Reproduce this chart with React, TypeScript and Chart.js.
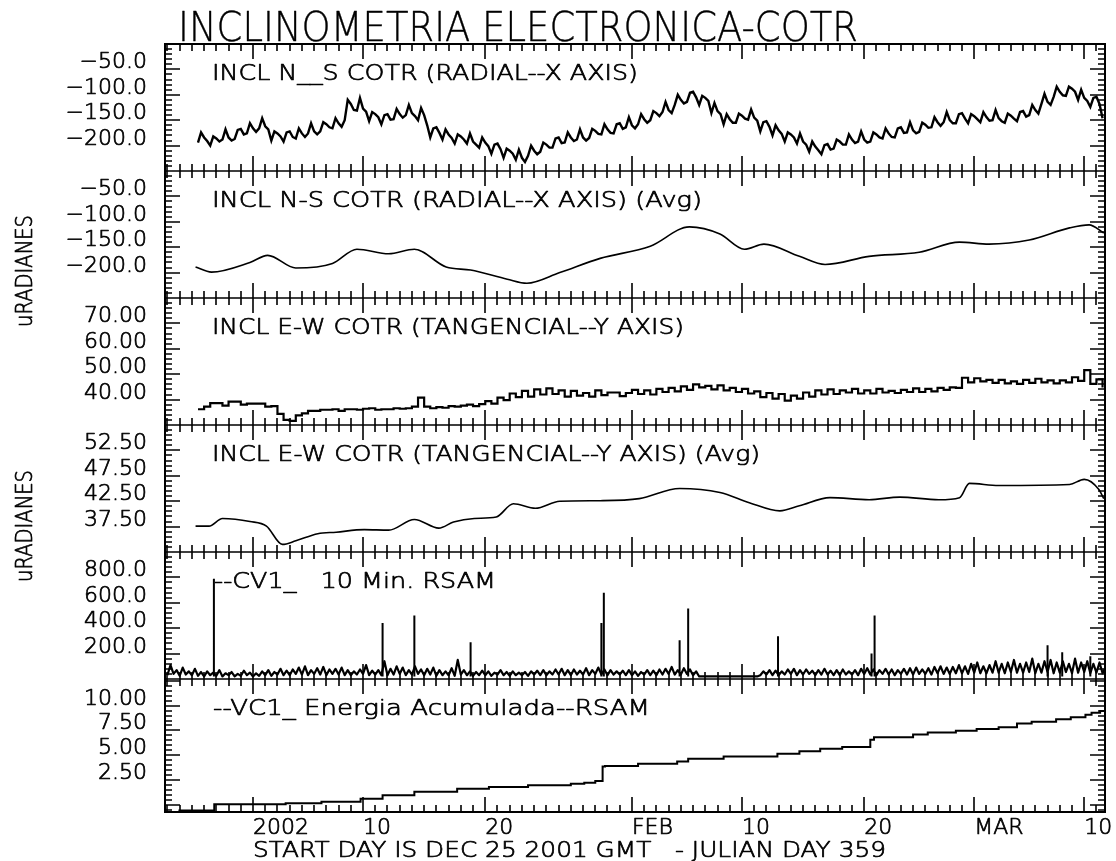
import { useEffect, useRef } from 'react';
import { Chart, registerables } from 'chart.js';

Chart.register(...registerables);

// ---------------- data ----------------
const X_MIN = -0.2;
const X_MAX = 76.7;
const X_TICK_DAYS = [7, 16, 26, 38, 47, 57, 66, 75];
const X_TICK_LABELS = ['2002', '10', '20', 'FEB', '10', '20', 'MAR', '10'];

// N-S raw inclination, every 6 h from day 2.5
const NS_START_DAY = 2.5;
const NS_STEP_DAY = 0.25;
const NS_RAW = [
  -194, -174, -184, -191, -200, -182, -186, -192, -188, -168, -184, -190,
  -187, -169, -167, -178, -176, -156, -166, -173, -166, -146, -162, -168,
  -190, -172, -176, -182, -192, -174, -172, -183, -186, -166, -176, -183,
  -176, -156, -172, -178, -172, -154, -158, -164, -166, -146, -156, -163,
  -150, -110, -118, -130, -131, -106, -127, -133, -152, -134, -138, -144,
  -158, -140, -138, -149, -148, -128, -138, -145, -140, -120, -136, -142,
  -150, -126, -140, -160, -184, -166, -164, -175, -188, -168, -178, -185,
  -196, -178, -182, -188, -196, -176, -192, -198, -204, -184, -194, -201,
  -216, -198, -196, -207, -224, -206, -210, -216, -228, -208, -224, -232,
  -220, -200, -210, -217, -212, -194, -198, -204, -204, -186, -184, -195,
  -194, -174, -184, -191, -188, -168, -184, -190, -185, -167, -171, -177,
  -178, -158, -168, -175, -176, -158, -156, -167, -164, -144, -160, -166,
  -158, -138, -148, -155, -150, -132, -136, -142, -134, -114, -130, -136,
  -120, -100, -110, -117, -114, -96, -94, -105, -120, -102, -106, -112,
  -136, -116, -132, -138, -158, -138, -148, -155, -155, -137, -141, -147,
  -149, -129, -145, -151, -172, -154, -152, -163, -180, -160, -170, -177,
  -192, -174, -178, -184, -196, -176, -192, -198, -212, -192, -202, -209,
  -217, -199, -197, -208, -206, -188, -192, -198, -198, -178, -188, -195,
  -192, -172, -188, -194, -192, -174, -178, -184, -186, -166, -176, -183,
  -184, -166, -164, -175, -174, -154, -170, -176, -173, -155, -159, -165,
  -164, -144, -154, -161, -154, -134, -150, -156, -156, -138, -136, -147,
  -156, -138, -142, -148, -154, -134, -144, -151, -150, -130, -146, -152,
  -155, -137, -141, -147, -152, -134, -132, -143, -140, -120, -130, -137,
  -118, -98, -114, -120, -104, -84, -94, -101, -102, -84, -88, -94,
  -110, -90, -106, -112, -124, -106, -104, -118, -146,
];

const NS_AVG_DAYS = [
  2.3, 3.6, 6.75, 8.2, 10.5, 13.5, 15.5, 18.1, 20.2, 22.8, 24.8, 27.8, 29.4, 32.1, 35.4,
  39.5, 42.7, 45.2, 47.2, 48.8, 51.7, 53.8, 57.4, 61.5, 64.8, 67.2, 70.5, 73.8, 75.4, 76.6,
];
const NS_AVG = [
  -189, -199, -180, -166, -191, -182, -154, -163, -154, -189, -195, -213, -221, -200, -172,
  -148, -110, -124, -154, -144, -168, -184, -168, -160, -140, -144, -136, -112, -106, -122,
];

// E-W raw inclination, every 12 h from day 2.5
const EW_START_DAY = 2.5;
const EW_STEP_DAY = 0.5;
const EW_RAW = [
  36.2, 37.2, 38.6, 38.6, 37.6, 39.2, 39.2, 38.0, 38.4, 38.4,
  38.4, 37.2, 37.4, 34.4, 32.0, 31.6, 33.8, 34.6, 35.6, 35.6,
  36.0, 36.0, 36.2, 35.6, 36.2, 36.2, 36.0, 36.4, 36.6, 36.0,
  36.2, 36.2, 36.6, 36.4, 36.6, 37.2, 40.8, 37.2, 36.6, 37.0,
  36.8, 37.4, 37.2, 37.6, 38.0, 37.4, 38.2, 39.4, 38.4, 40.8,
  39.8, 42.4, 41.0, 43.4, 41.2, 44.0, 42.0, 44.4, 42.2, 43.6,
  41.2, 43.4, 41.6, 42.6, 41.2, 43.6, 41.8, 42.8, 42.8, 41.4,
  42.6, 43.8, 42.2, 43.6, 42.0, 44.2, 43.0, 44.6, 43.2, 45.2,
  43.8, 46.0, 44.8, 45.4, 44.0, 45.6, 43.6, 44.6, 43.0, 44.2,
  42.4, 43.2, 41.0, 42.6, 40.4, 42.2, 39.6, 41.6, 40.4, 42.8,
  41.2, 43.6, 42.0, 44.0, 42.2, 43.6, 42.8, 44.2, 42.4, 43.6,
  42.4, 44.2, 42.8, 43.4, 42.6, 43.8, 43.0, 44.4, 43.0, 44.2,
  43.2, 44.6, 43.8, 44.8, 44.6, 48.6, 46.8, 48.4, 47.2, 47.8,
  46.6, 47.8, 46.4, 47.2, 46.2, 47.8, 46.6, 48.2, 46.8, 47.6,
  46.4, 47.6, 46.8, 48.8, 47.4, 51.6, 46.2, 48.0, 44.8,
];

const EW_AVG_DAYS = [
  2.3, 3.4, 4.5, 6.75, 8.1, 9.4, 10.5, 12.3, 13.8, 16.1, 18.1, 20.2, 22.2, 23.4, 25.1, 26.9,
  28.3, 30.1, 32.1, 35.4, 38.6, 41.9, 45.2, 47.6, 50.1, 51.7, 54.2, 57.4, 59.9, 63.1, 64.8,
  65.6, 68.0, 73.8, 75.0, 76.2, 76.6,
];
const EW_AVG = [
  37.6, 37.6, 39.1, 38.5, 37.6, 34.0, 34.7, 36.1, 36.4, 36.9, 36.8, 38.9, 37.2, 38.4, 39.1, 39.4,
  42.0, 41.1, 42.5, 42.6, 43.0, 45.0, 44.2, 42.2, 40.6, 41.6, 43.2, 42.8, 43.3, 42.8, 43.2,
  46.0, 45.6, 45.8, 46.8, 44.8, 43.0,
];

// RSAM background, every 6 h from day 0
const RSAM_START_DAY = 0;
const RSAM_STEP_DAY = 0.25;
const RSAM = [
  30, 110, 40, 70, 25, 90, 35, 60, 30, 80, 25, 55, 20, 60, 30, 50,
  25, 70, 20, 45, 30, 55, 20, 40, 25, 65, 30, 50, 20, 45, 25, 60,
  30, 70, 25, 55, 35, 80, 30, 65, 30, 75, 40, 90, 35, 100, 30, 70,
  40, 85, 35, 95, 30, 75, 40, 80, 35, 90, 30, 70, 30, 60, 35, 75,
  40, 110, 30, 65, 35, 70, 30, 140, 30, 80, 35, 100, 40, 90, 30, 70,
  35, 100, 40, 75, 30, 80, 35, 90, 25, 70, 30, 60, 30, 85, 25, 150,
  35, 70, 30, 60, 25, 55, 30, 65, 30, 60, 25, 50, 35, 70, 30, 55,
  25, 60, 30, 50, 30, 55, 25, 60, 35, 65, 30, 70, 30, 60, 35, 75,
  35, 80, 30, 70, 30, 75, 35, 65, 35, 85, 30, 70, 40, 90, 35, 75,
  30, 70, 35, 60, 35, 65, 30, 70, 30, 60, 25, 55, 35, 70, 30, 65,
  30, 75, 35, 80, 40, 95, 35, 70, 35, 85, 40, 75, 30, 60, 20, 20,
  20, 20, 20, 20, 20, 20, 20, 20, 20, 20, 20, 20, 20, 20, 20, 20,
  20, 20, 30, 60, 35, 70, 30, 65, 30, 60, 35, 75, 40, 80, 30, 70,
  35, 75, 40, 65, 30, 70, 35, 80, 35, 65, 30, 70, 30, 75, 35, 60,
  35, 70, 30, 80, 40, 85, 35, 75, 30, 70, 40, 80, 35, 75, 30, 70,
  40, 80, 35, 85, 35, 90, 40, 75, 40, 85, 35, 95, 45, 100, 40, 90,
  40, 95, 45, 110, 45, 100, 40, 120, 50, 130, 45, 100, 45, 110, 50, 140,
  50, 120, 45, 130, 55, 150, 50, 120, 50, 130, 55, 160, 45, 120, 50, 140,
  55, 150, 45, 130, 50, 140, 55, 120, 45, 160, 50, 130, 55, 140, 45, 120,
  50, 130, 45, 90,
];
const RSAM_SPIKE_DAYS = [3.8, 17.6, 20.2, 24.8, 35.5, 35.7, 41.9, 42.6, 49.95, 57.6, 57.85, 72.0, 73.2, 75.5];
const RSAM_SPIKES = [790, 440, 500, 290, 440, 680, 305, 555, 336, 200, 500, 265, 210, 180];
const RSAM_FLOOR = 20;

const ENERGY_DAYS = [
  0.9, 3.83, 9.67, 12.6, 15.8, 17.6, 20.2, 23.7, 26.3, 29.5, 33.0, 34.1, 35.0, 35.6, 35.8,
  38.5, 41.7, 42.6, 45.5, 49.9, 51.7, 53.4, 55.2, 57.5, 57.8, 61.0, 62.2, 64.5, 66.2, 68.0,
  69.5, 70.7, 72.7, 73.9, 75.1, 75.6, 76.3, 76.7,
];
const ENERGY = [
  -0.6, 0.04, 0.14, 0.29, 0.58, 0.94, 1.3, 1.59, 1.78, 1.96, 2.1, 2.21, 2.39, 3.84, 3.91,
  4.13, 4.35, 4.64, 4.86, 5.14, 5.4, 5.65, 5.83, 6.56, 6.81, 7.1, 7.28, 7.46, 7.64, 7.83,
  8.19, 8.37, 8.62, 8.84, 9.09, 9.28, 9.46, 9.46,
];

const PANEL_IDS = ['y1', 'y2', 'y3', 'y4', 'y5', 'y6'];
const PANEL_MIN = [-250, -250, 30, 32.5, 0, -0.75];
const PANEL_MAX = [0, 0, 80, 57.5, 1000, 12.7];
const PANEL_TICKS = [
  [-200, -150, -100, -50],
  [-200, -150, -100, -50],
  [40, 50, 60, 70],
  [37.5, 42.5, 47.5, 52.5],
  [200, 400, 600, 800],
  [2.5, 5, 7.5, 10],
];
const PANEL_MAJOR_STEP = [50, 50, 10, 5, 200, 2.5];
const PANEL_DECIMALS = [1, 1, 2, 2, 1, 2];
const PANEL_LABELS = [
  'INCL N__S COTR (RADIAL--X AXIS)',
  'INCL N-S COTR (RADIAL--X AXIS) (Avg)',
  'INCL E-W COTR (TANGENCIAL--Y AXIS)',
  'INCL E-W COTR (TANGENCIAL--Y AXIS) (Avg)',
  '--CV1_   10 Min. RSAM',
  '--VC1_ Energia Acumulada--RSAM',
];
const TITLE = 'INCLINOMETRIA ELECTRONICA-COTR';
const Y_TITLE = 'uRADIANES';
const CAPTION = 'START DAY IS DEC 25 2001 GMT   - JULIAN DAY 359';

// ---------------- layout / style ----------------
const W = 1116;
const H = 861;
const AREA = { left: 165, right: 1105, top: 44, bottom: 812 };
const PANEL_HEIGHTS = [127, 127, 127, 127, 127, 133];
const FONT = '"DejaVu Sans", "Liberation Sans", sans-serif';
const LABEL_POS = [
  { x: 212, w: 426 },
  { x: 212, w: 490 },
  { x: 212, w: 472 },
  { x: 212, w: 548 },
  { x: 214, w: 282 },
  { x: 213, w: 437 },
];

function fmt(v: number, d: number) {
  const s = Math.abs(v).toFixed(d);
  return v < 0 ? '\u2212' + s : s;
}

type TextOpts = { size: number; align?: CanvasTextAlign; width?: number; weight?: number | string; stroke?: number };

function drawText(ctx: CanvasRenderingContext2D, text: string, x: number, y: number, o: TextOpts) {
  ctx.save();
  ctx.font = `${o.weight ?? 200} ${o.size}px ${FONT}`;
  ctx.textBaseline = 'alphabetic';
  ctx.textAlign = 'left';
  const natural = ctx.measureText(text).width;
  const sx = o.width ? o.width / natural : 1;
  const w = natural * sx;
  let left = x;
  if (o.align === 'right') left = x - w;
  else if (o.align === 'center') left = x - w / 2;
  ctx.translate(left, y);
  ctx.scale(sx, 1);
  ctx.fillStyle = '#000';
  ctx.strokeStyle = '#000';
  const sw = o.stroke ?? 0.7;
  ctx.lineWidth = sw;
  ctx.lineJoin = 'round';
  ctx.fillText(text, 0, 0);
  if (sw > 0) ctx.strokeText(text, 0, 0);
  ctx.restore();
}

const framePlugin = {
  id: 'frameTicks',
  afterDraw(chart: any) {
    const { ctx, chartArea: a, scales } = chart;
    const xs = scales.x;
    const ps = PANEL_IDS.map((id) => scales[id]);
    ctx.save();
    ctx.strokeStyle = '#000';
    ctx.lineWidth = 2;
    ctx.strokeRect(a.left, a.top, a.right - a.left, a.bottom - a.top);

    const bounds = [a.top, ...ps.slice(1).map((s: any) => s.top), a.bottom];
    ctx.lineWidth = 1.6;
    ctx.beginPath();
    bounds.forEach((y: number, bi: number) => {
      if (bi > 0 && bi < bounds.length - 1) {
        ctx.moveTo(a.left, y);
        ctx.lineTo(a.right, y);
      }
      for (let d = Math.ceil(X_MIN); d <= X_MAX; d++) {
        const px = Math.round(xs.getPixelForValue(d));
        const len = X_TICK_DAYS.includes(d) ? 15 : 7;
        const up = bi > 0 ? len : 0;
        const down = bi < bounds.length - 1 ? len : 0;
        ctx.moveTo(px, y - up);
        ctx.lineTo(px, y + down);
      }
    });
    PANEL_IDS.forEach((_, i) => {
      const s = ps[i];
      const major = PANEL_MAJOR_STEP[i];
      const minor = major / 5;
      const anchor = PANEL_TICKS[i][0];
      const kStart = Math.ceil((PANEL_MIN[i] - anchor) / minor - 1e-9);
      const kEnd = Math.floor((PANEL_MAX[i] - anchor) / minor + 1e-9);
      for (let k = kStart; k <= kEnd; k++) {
        const v = anchor + k * minor;
        const py = Math.round(s.getPixelForValue(v));
        if (py <= s.top + 1 || py >= s.bottom - 1) continue;
        const len = ((k % 5) + 5) % 5 === 0 ? 15 : 7;
        ctx.moveTo(a.left, py);
        ctx.lineTo(a.left + len, py);
        ctx.moveTo(a.right, py);
        ctx.lineTo(a.right - len, py);
      }
    });
    ctx.stroke();

    // axis tick labels, placed through the scales
    PANEL_IDS.forEach((_, i) => {
      PANEL_TICKS[i].forEach((v) => {
        const py = ps[i].getPixelForValue(v);
        drawText(ctx, fmt(v, PANEL_DECIMALS[i]), a.left - 18, py - 1, { size: 22, align: 'right' });
      });
    });
    X_TICK_DAYS.forEach((d, i) => {
      drawText(ctx, X_TICK_LABELS[i], xs.getPixelForValue(d), a.bottom + 22, { size: 22 });
    });

    // other texts
    drawText(ctx, TITLE, 178, 41, { size: 41, width: 680, stroke: 0.4 });
    PANEL_LABELS.forEach((t, i) => {
      drawText(ctx, t, LABEL_POS[i].x, ps[i].top + 36, { size: 22, width: LABEL_POS[i].w });
    });
    [327, 582].forEach((yb) => {
      ctx.save();
      ctx.translate(32, yb);
      ctx.rotate(-Math.PI / 2);
      drawText(ctx, Y_TITLE, 0, 0, { size: 23, width: 112 });
      ctx.restore();
    });
    drawText(ctx, CAPTION, 253, 857, { size: 22, width: 633 });
    ctx.restore();
  },
};

const seq = (start: number, step: number, vals: number[]) => vals.map((v, i) => ({ x: start + i * step, y: v }));
const pairs = (xs: number[], ys: number[]) => xs.map((x, i) => ({ x, y: ys[i] }));

export default function App() {
  const ref = useRef<HTMLCanvasElement>(null);
  useEffect(() => {
    const scales: any = {
      x: {
        type: 'linear',
        position: 'bottom',
        min: X_MIN,
        max: X_MAX,
        grid: { display: false, drawTicks: false },
        border: { display: false },
        ticks: { display: false },
        afterBuildTicks: (s: any) => {
          s.ticks = X_TICK_DAYS.map((v) => ({ value: v }));
        },
        afterFit: (s: any) => {
          s.height = H - AREA.bottom;
          s.paddingLeft = 0;
          s.paddingRight = 0;
        },
      },
    };
    PANEL_IDS.forEach((id, i) => {
      scales[id] = {
        type: 'linear',
        position: 'left',
        stack: 'panels',
        stackWeight: PANEL_HEIGHTS[i],
        weight: PANEL_IDS.length - i,
        min: PANEL_MIN[i],
        max: PANEL_MAX[i],
        grid: { display: false, drawTicks: false },
        border: { display: false },
        ticks: { display: false },
        afterBuildTicks: (s: any) => {
          s.ticks = PANEL_TICKS[i].map((v) => ({ value: v }));
        },
        afterFit: (s: any) => {
          s.width = AREA.left;
          s.paddingTop = 0;
          s.paddingBottom = 0;
        },
      };
    });

    const spikeData: any[] = [];
    RSAM_SPIKE_DAYS.forEach((d, i) => {
      spikeData.push({ x: d, y: RSAM_FLOOR }, { x: d, y: RSAM_SPIKES[i] }, { x: d, y: null });
    });

    const base = { borderColor: '#000', pointRadius: 0, fill: false, borderCapStyle: 'butt', xAxisID: 'x' };
    const chart = new Chart(ref.current as HTMLCanvasElement, {
      type: 'line',
      data: {
        datasets: [
          { ...base, label: 'NS', yAxisID: 'y1', data: seq(NS_START_DAY, NS_STEP_DAY, NS_RAW), borderWidth: 2.4, tension: 0 },
          { ...base, label: 'NS avg', yAxisID: 'y2', data: pairs(NS_AVG_DAYS, NS_AVG), borderWidth: 1.6, cubicInterpolationMode: 'monotone' },
          { ...base, label: 'EW', yAxisID: 'y3', data: seq(EW_START_DAY, EW_STEP_DAY, EW_RAW), borderWidth: 2.2, stepped: true },
          { ...base, label: 'EW avg', yAxisID: 'y4', data: pairs(EW_AVG_DAYS, EW_AVG), borderWidth: 1.6, cubicInterpolationMode: 'monotone' },
          { ...base, label: 'RSAM', yAxisID: 'y5', data: seq(RSAM_START_DAY, RSAM_STEP_DAY, RSAM), borderWidth: 2.2, borderJoinStyle: 'round' },
          { ...base, label: 'RSAM spikes', yAxisID: 'y5', data: spikeData, borderWidth: 2, spanGaps: false },
          { ...base, label: 'Energia', yAxisID: 'y6', data: pairs(ENERGY_DAYS, ENERGY), borderWidth: 2, stepped: 'before' },
        ] as any,
      },
      options: {
        animation: false,
        responsive: false,
        devicePixelRatio: 1,
        layout: { padding: { top: AREA.top, right: W - AREA.right, left: 0, bottom: 0 } },
        plugins: { legend: { display: false }, tooltip: { enabled: false }, title: { display: false } },
        events: [],
        scales,
      } as any,
      plugins: [framePlugin],
    });
    return () => chart.destroy();
  }, []);

  return (
    <div style={{ position: 'absolute', left: 0, top: 0, width: W, height: H, background: '#fff' }}>
      <canvas ref={ref} width={W} height={H} style={{ width: W, height: H, display: 'block' }} />
    </div>
  );
}
